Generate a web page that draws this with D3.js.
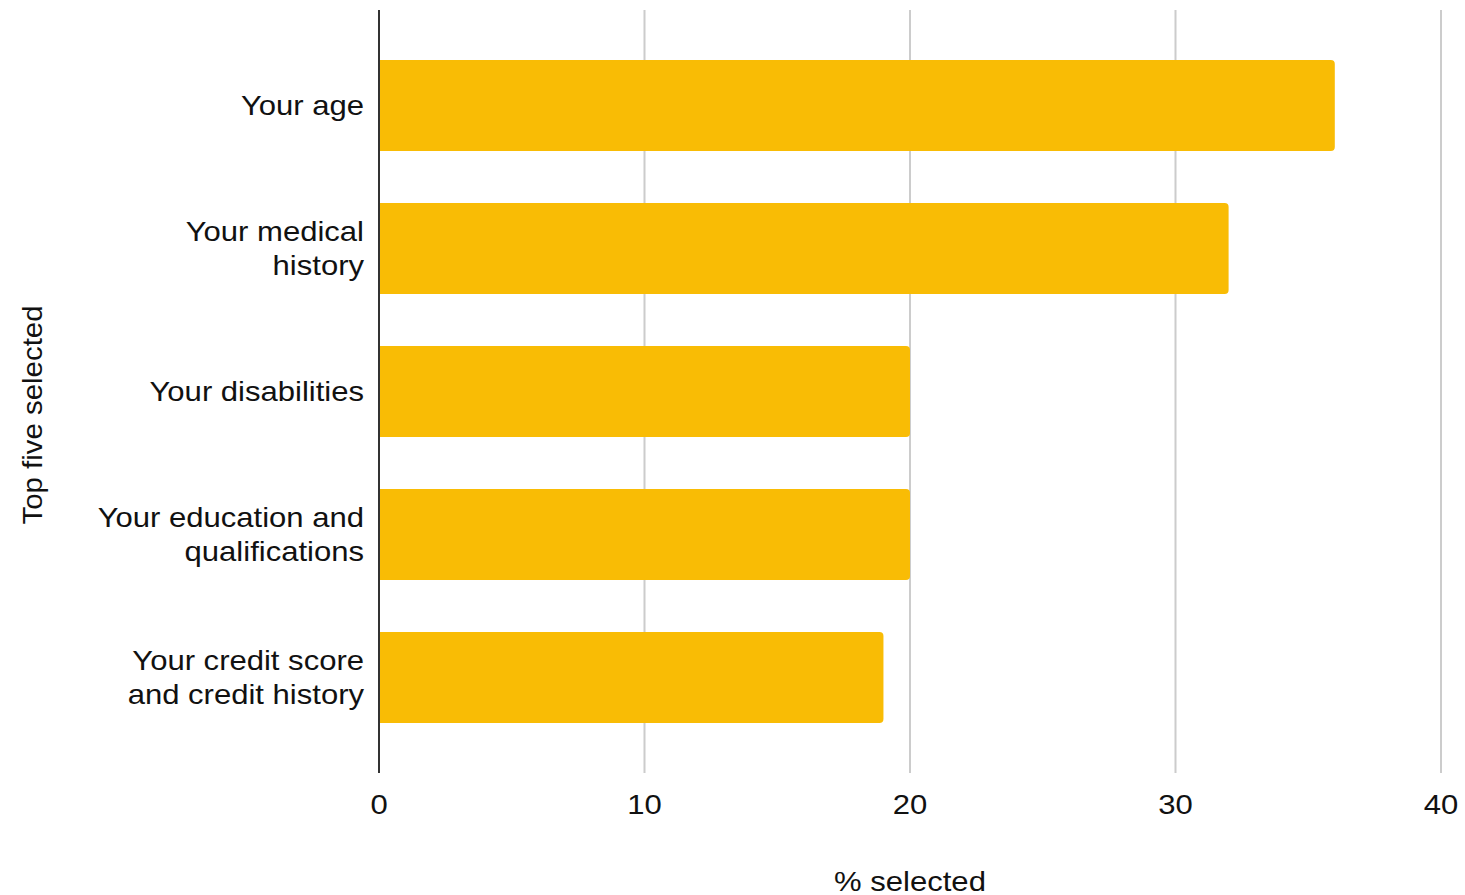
<!DOCTYPE html>
<html>
<head>
<meta charset="utf-8">
<script src="https://cdn.jsdelivr.net/npm/d3@7"></script>
<style>
  html, body { margin: 0; padding: 0; background: #fff; }
  svg { display: block; font-family: "Liberation Sans", Arial, sans-serif; }
</style>
</head>
<body>
<svg id="chart" width="1465" height="895"></svg>
<script>
// Categories (each label split into its display lines)
const categories = [
  ["Your age"],
  ["Your medical", "history"],
  ["Your disabilities"],
  ["Your education and", "qualifications"],
  ["Your credit score", "and credit history"]
];
// % selected per category
const values = [36, 32, 20, 20, 19];
// x-axis ticks
const xTicks = [0, 10, 20, 30, 40];

const svg = d3.select("#chart");
const plotLeft = 379, plotRight = 1441, plotTop = 10, plotBottom = 773;
const stretch = 1.15; // wide-set text

const keys = categories.map(d => d.join(" "));
const x = d3.scaleLinear().domain([0, 40]).range([plotLeft, plotRight]);
const y = d3.scaleBand().domain(keys).range([plotTop, plotBottom])
  .paddingInner(0.364).paddingOuter(0.35);

// gridlines
svg.append("g").selectAll("line").data(xTicks.filter(t => t !== 0)).join("line")
  .attr("x1", d => x(d)).attr("x2", d => x(d))
  .attr("y1", plotTop).attr("y2", plotBottom)
  .attr("stroke", "#cccccc").attr("stroke-width", 2);

// bars with slightly rounded right end
const r = 4;
svg.append("g").selectAll("path").data(values).join("path")
  .attr("fill", "#f9bc05")
  .attr("d", (v, i) => {
    const x0 = x(0) + 1, x1 = x(v), y0 = y(keys[i]), h = y.bandwidth();
    return `M${x0},${y0} H${x1 - r} Q${x1},${y0} ${x1},${y0 + r} V${y0 + h - r} Q${x1},${y0 + h} ${x1 - r},${y0 + h} H${x0} Z`;
  });

// baseline axis at zero
svg.append("line")
  .attr("x1", x(0)).attr("x2", x(0)).attr("y1", plotTop).attr("y2", plotBottom)
  .attr("stroke", "#333333").attr("stroke-width", 2);

// x tick labels
svg.append("g").selectAll("text").data(xTicks).join("text")
  .attr("transform", d => `translate(${x(d)}, 814) scale(${stretch}, 1)`)
  .attr("text-anchor", "middle")
  .attr("font-size", 27).attr("fill", "#111")
  .text(d => d);

// category labels
const lineH = 34;
const lab = svg.append("g").selectAll("text").data(categories).join("text")
  .attr("text-anchor", "end")
  .attr("font-size", 27).attr("fill", "#111")
  .attr("transform", (d, i) => `translate(364, ${y(keys[i]) + y.bandwidth() / 2}) scale(${stretch}, 1)`);
lab.each(function(lines) {
  const t = d3.select(this);
  const n = lines.length;
  lines.forEach((ln, j) => {
    t.append("tspan").attr("x", 0)
      .attr("y", (j - (n - 1) / 2) * lineH + 9.5)
      .text(ln);
  });
});

// axis titles
svg.append("text")
  .attr("transform", `translate(${(plotLeft + plotRight) / 2}, 891) scale(${stretch}, 1)`)
  .attr("text-anchor", "middle").attr("font-size", 27).attr("fill", "#111")
  .text("% selected");

svg.append("text")
  .attr("transform", "translate(42, 415) rotate(-90) scale(1.09, 1)")
  .attr("text-anchor", "middle").attr("font-size", 27).attr("fill", "#111")
  .text("Top five selected");
</script>
</body>
</html>
